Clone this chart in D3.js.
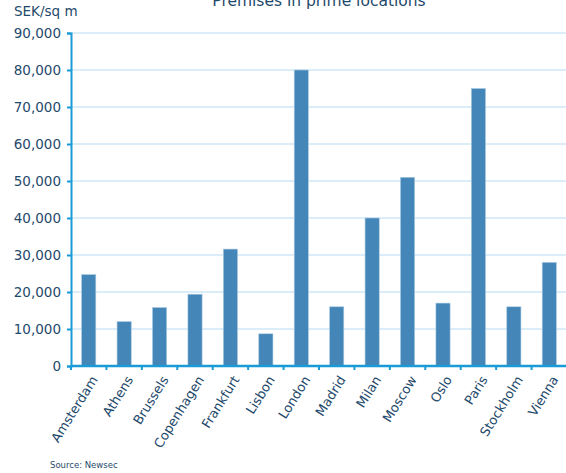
<!DOCTYPE html>
<html>
<head>
<meta charset="utf-8">
<script src="https://cdn.jsdelivr.net/npm/d3@7"></script>
<style>
  body { margin: 0; background: #fff; }
  text { font-family: "DejaVu Sans", Verdana, sans-serif; fill: #1f4a6c; }
</style>
</head>
<body>
<div id="chart"></div>
<script>
const cities = ["Amsterdam", "Athens", "Brussels", "Copenhagen", "Frankfurt", "Lisbon", "London",
  "Madrid", "Milan", "Moscow", "Oslo", "Paris", "Stockholm", "Vienna"];
const rents = [24700, 12000, 15800, 19400, 31600, 8700, 80000,
  16000, 40000, 51000, 17000, 75000, 16000, 28000];
const yTicks = [0, 10000, 20000, 30000, 40000, 50000, 60000, 70000, 80000, 90000];

const width = 566, height = 473;
const margin = { top: 33, right: -1, bottom: 107, left: 71 };
const axisColor = "#1a9ad6";

const svg = d3.select("#chart").append("svg")
  .attr("width", width)
  .attr("height", height);

const x = d3.scaleBand()
  .domain(cities)
  .range([margin.left, width - margin.right])
  .paddingInner(0.6)
  .paddingOuter(0.3);

const y = d3.scaleLinear()
  .domain([0, 90000])
  .range([height - margin.bottom, margin.top]);

// gridlines
svg.append("g")
  .selectAll("line")
  .data(yTicks.slice(1))
  .enter().append("line")
  .attr("x1", margin.left)
  .attr("x2", width)
  .attr("y1", d => y(d))
  .attr("y2", d => y(d))
  .style("stroke", "#cfe7f7")
  .style("stroke-width", "1.5px");

// bars
svg.append("g")
  .selectAll("rect")
  .data(rents)
  .enter().append("rect")
  .attr("x", (d, i) => x(cities[i]))
  .attr("y", d => y(d))
  .attr("width", x.bandwidth())
  .attr("height", d => y(0) - y(d))
  .attr("fill", "#4486b8")
  .attr("stroke", "#a9cbe3")
  .style("stroke-width", "0.6px");

// y axis
const yAxis = svg.append("g")
  .attr("transform", `translate(${margin.left},0)`)
  .call(d3.axisLeft(y).tickValues(yTicks).tickSize(4).tickPadding(6)
    .tickFormat(d3.format(",")));
yAxis.select(".domain").style("stroke", axisColor).style("stroke-width", "2px");
yAxis.selectAll(".tick line").style("stroke", axisColor).style("stroke-width", "2px");
yAxis.selectAll(".tick text")
  .style("font-size", "13.5px")
  .style("fill", "#1f4a6c");

// x axis
const xAxis = svg.append("g")
  .attr("transform", `translate(0,${y(0)})`)
  .call(d3.axisBottom(x).tickSize(0).tickSizeOuter(0));
xAxis.select(".domain").style("stroke", axisColor).style("stroke-width", "2.5px")
  .attr("d", `M${margin.left},0H${width}`);
xAxis.selectAll(".tick line").remove();
xAxis.selectAll(".tick text")
  .style("font-size", "13px")
  .style("fill", "#1f4a6c")
  .attr("text-anchor", "end")
  .attr("transform", `translate(${x.step() * 0.16},11) rotate(-58)`)
  .attr("dy", "0.35em")
  .attr("y", 0)
  .attr("x", 0);

// category boundary ticks
const bounds = d3.range(cities.length + 1).map(i => margin.left + i * x.step());
svg.append("g")
  .selectAll("line")
  .data(bounds)
  .enter().append("line")
  .attr("x1", d => d)
  .attr("x2", d => d)
  .attr("y1", y(0))
  .attr("y2", y(0) + 4)
  .style("stroke", axisColor)
  .style("stroke-width", "2px");

// titles
svg.append("text")
  .attr("x", 319)
  .attr("y", 6)
  .attr("text-anchor", "middle")
  .style("font-size", "15.5px")
  .text("Premises in prime locations");

svg.append("text")
  .attr("x", 14)
  .attr("y", 16)
  .style("font-size", "13.5px")
  .text("SEK/sq m");

svg.append("text")
  .attr("x", 50)
  .attr("y", 468)
  .style("font-size", "8.5px")
  .text("Source: Newsec");
</script>
</body>
</html>
